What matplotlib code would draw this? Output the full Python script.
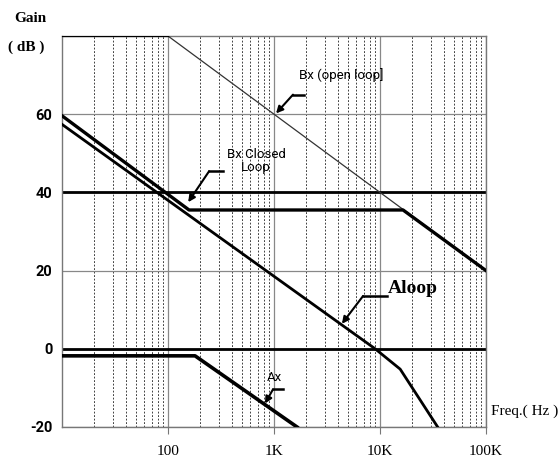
import numpy as np
import matplotlib
matplotlib.use("Agg")
import matplotlib.pyplot as plt
from matplotlib.ticker import FixedLocator, LogLocator, NullFormatter

# datos (frecuencia en Hz, ganancia en dB)
f_bx_open = [10, 100, 100000]
g_bx_open = [80, 80, 20]

f_bx_closed = [10, 158, 16500, 100000]
g_bx_closed = [59.6, 35.5, 35.5, 20.0]

f_aloop = [10, 9000, 15500, 35000]
g_aloop = [57.4, 0.0, -5.2, -20.0]

f_ax = [10, 180, 1650]
g_ax = [-1.8, -1.8, -20.0]

ref_levels = [40, 0]

xticks = [100, 1000, 10000, 100000]
xlabels = ["100", "1K", "10K", "100K"]
yticks = [-20, 0, 20, 40, 60]
ylabels = ["-20", "0", "20", "40", "60"]

serif = ["Liberation Serif", "DejaVu Serif"]
narrow = ["Roboto", "Liberation Sans", "DejaVu Sans"]

fig = plt.figure(figsize=(5.6, 4.62), dpi=100)
ax = fig.add_axes([62/560, 1-427/462, 424/560, 391/462])

ax.set_xscale("log")
ax.set_xlim(10, 100000)
ax.set_ylim(-20, 80)

# rejilla
ax.xaxis.set_minor_locator(LogLocator(base=10, subs=np.arange(2, 10)))
ax.xaxis.set_minor_formatter(NullFormatter())
ax.grid(which="major", axis="x", color="#888888", lw=0.9)
ax.grid(which="minor", axis="x", color="#222222", lw=0.6, ls=(0, (2.2, 2)))
ax.grid(which="major", axis="y", color="#888888", lw=0.9)
ax.set_axisbelow(True)

for lvl in ref_levels:
    ax.axhline(lvl, color="black", lw=2.0, zorder=2)

ax.plot(f_bx_open, g_bx_open, color="#333333", lw=0.9, zorder=3)
ax.plot(f_bx_open[:2], g_bx_open[:2], color="black", lw=1.6, zorder=3)
ax.plot(f_bx_closed, g_bx_closed, color="black", lw=2.4, zorder=3)
ax.plot(f_aloop, g_aloop, color="black", lw=2.0, zorder=3)
ax.plot(f_ax, g_ax, color="black", lw=2.6, zorder=3)

for s in ax.spines.values():
    s.set_color("#777777")
    s.set_linewidth(1.0)

ax.xaxis.set_major_locator(FixedLocator(xticks))
ax.set_xticklabels(xlabels, fontfamily=serif, fontsize=11)
ax.tick_params(axis="x", which="major", length=5, color="#777777", pad=8)
ax.tick_params(axis="x", which="minor", length=0)
ax.yaxis.set_major_locator(FixedLocator(yticks))
ax.set_yticklabels(ylabels, fontfamily=narrow, fontsize=10.5, fontweight="bold")
ax.tick_params(axis="y", length=0, pad=7)

# anotaciones con flecha
def flecha(x0, x1, y, xt, yt):
    ax.plot([x0, x1], [y, y], color="black", lw=1.8, zorder=4)
    ax.annotate("", xy=(xt, yt), xytext=(x1, y),
                arrowprops=dict(arrowstyle="-|>", color="black", lw=1.5,
                                mutation_scale=10, shrinkA=0, shrinkB=0),
                zorder=4)

ax.text(1720, 70, "Bx (open loop]", fontfamily=narrow, fontsize=9.5,
        va="center", ha="left")
flecha(1920, 1510, 65, 1045, 60.2)

ax.text(677, 48, "Bx Closed\nLoop", fontfamily=narrow, fontsize=9.5,
        va="center", ha="center", multialignment="center", linespacing=1.0)
flecha(330, 244, 45.4, 155, 37.5)

ax.text(11900, 15.3, "Aloop", fontfamily=serif, fontsize=14,
        fontweight="bold", va="center", ha="left")
flecha(11650, 6920, 13.5, 4370, 6.4)

ax.text(859, -7.4, "Ax", fontfamily=narrow, fontsize=9.5,
        va="center", ha="left")
flecha(1216, 977, -10.4, 822, -14.0)

fig.text(30/560, 1-19/462, "Gain", fontfamily=serif, fontsize=11,
         fontweight="bold", ha="center", va="center")
fig.text(26/560, 1-47/462, "( dB )", fontfamily=serif, fontsize=11,
         fontweight="bold", ha="center", va="center")
fig.text(491/560, 1-411/462, "Freq.( Hz )", fontfamily=serif, fontsize=11,
         ha="left", va="center")

fig.savefig("out.png", dpi=100)
